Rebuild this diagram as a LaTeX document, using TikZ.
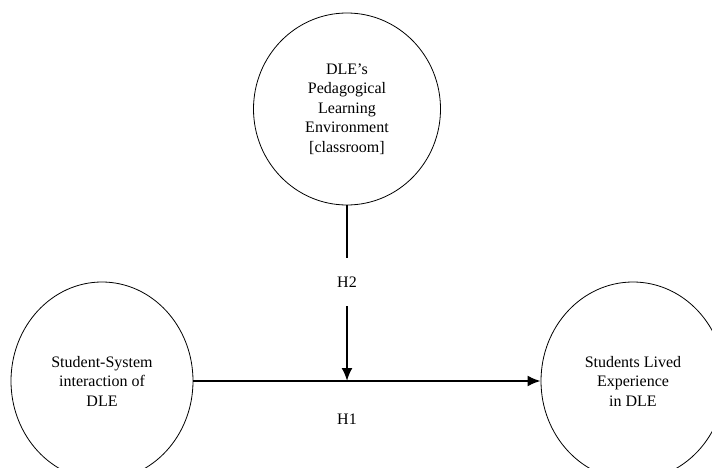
\documentclass[tikz,border=0pt]{standalone}
\usepackage{fontspec}
\setmainfont{Liberation Serif}
\usetikzlibrary{arrows.meta,shapes.geometric}

\begin{document}
\begin{tikzpicture}[x=1pt,y=-1pt,
  construct/.style={ellipse,draw,line width=0.8pt,align=center,inner sep=0pt,
    font=\fontsize{16}{19.5}\selectfont},
  hyp/.style={font=\fontsize{16}{19.5}\selectfont},
  link/.style={line width=2pt,-{Latex[length=13pt,width=11pt]}}]
\useasboundingbox (0,0) rectangle (712,468);

\node[construct,minimum width=187pt,minimum height=192pt] (env) at (347,109)
  {DLE’s\\Pedagogical\\Learning\\Environment\\{[classroom]}};
\node[construct,minimum width=182pt,minimum height=198pt] (sys) at (102,381)
  {Student-System\\interaction of\\DLE};
\node[construct,minimum width=184pt,minimum height=198pt] (exp) at (633,381)
  {Students Lived\\Experience\\in DLE};

\node[hyp,minimum height=48pt] (h2) at (347,282) {H2};
\node[hyp] (h1) at (347,419) {H1};
\coordinate (meet) at (h2 |- sys.east);

\draw[line width=2pt] (env) -- (h2);
\draw[link] (h2) -- (meet);
\draw[link] (sys) -- (exp);

\end{tikzpicture}
\end{document}
